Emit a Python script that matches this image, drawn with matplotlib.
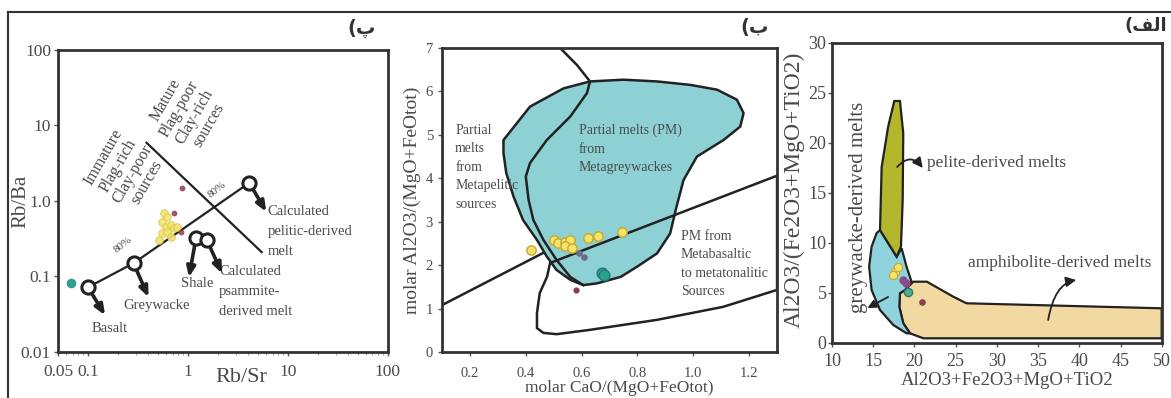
import matplotlib
matplotlib.use('Agg')
import matplotlib.pyplot as plt
from matplotlib.patches import Polygon
from matplotlib.lines import Line2D

plt.rcParams['font.family'] = ['Liberation Serif', 'DejaVu Serif']

# ---------------- Panel (پ) : Rb/Sr vs Rb/Ba ----------------
p1_xticks = [0.05, 0.1, 1, 10, 100]
p1_xticklabels = ['0.05', '0.1', '1', '10', '100']
p1_yticks = [0.01, 0.1, 1, 10, 100]
p1_yticklabels = ['0.01', '0.1', '1.0', '10', '100']
mix_x = [0.1, 0.285, 4.1]
mix_y = [0.072, 0.15, 1.74]
div_x = [0.385, 5.46]
div_y = [5.9, 0.21]
end_names = ['Basalt', 'Greywacke', 'Shale',
             'Calculated\npsammite-\nderived melt',
             'Calculated\npelitic-derived\nmelt']
end_x = [0.1, 0.285, 1.2, 1.55, 4.1]
end_y = [0.072, 0.15, 0.32, 0.30, 1.74]
p1_yel_x = [0.573, 0.614, 0.546, 0.60, 0.673, 0.722, 0.774, 0.546, 0.614, 0.509, 0.673]
p1_yel_y = [0.693, 0.614, 0.527, 0.453, 0.481, 0.439, 0.453, 0.377, 0.388, 0.304, 0.333]
p1_red_x = [0.87, 0.85, 0.72]
p1_red_y = [1.48, 0.39, 0.69]
p1_teal_x = [0.067]
p1_teal_y = [0.082]

# ---------------- Panel (ب) : CaO/(MgO+FeOt) vs Al2O3/(MgO+FeOt) ----------------
p2_xticks = [0.2, 0.4, 0.6, 0.8, 1.0, 1.2]
p2_xticklabels = ['0.2', '0.4', '0.6', '0.8', '1.0', '1.2']
p2_yticks = [0, 1, 2, 3, 4, 5, 6, 7]
greyw_x = [0.32, 0.415, 0.535, 0.63, 0.75, 0.87, 0.99, 1.085, 1.156, 1.18, 1.168, 1.108,
           1.013, 0.965, 0.94, 0.917, 0.87, 0.80, 0.74, 0.655, 0.606, 0.56, 0.51, 0.475,
           0.44, 0.39, 0.356, 0.33, 0.32]
greyw_y = [4.88, 5.65, 6.07, 6.23, 6.27, 6.23, 6.15, 6.04, 5.81, 5.5, 5.19, 4.88,
           4.5, 3.96, 3.35, 2.73, 2.27, 1.97, 1.73, 1.58, 1.54, 1.66, 1.89, 2.2,
           2.58, 3.04, 3.58, 4.12, 4.58]
pelit_x = [0.523, 0.583, 0.63, 0.619, 0.559, 0.475, 0.415, 0.40, 0.41, 0.427, 0.463, 0.51, 0.559, 0.606]
pelit_y = [7.0, 6.61, 6.23, 5.96, 5.42, 4.88, 4.35, 4.04, 3.5, 3.04, 2.58, 2.12, 1.73, 1.54]
lineA_x = [0.1, 0.462]
lineA_y = [1.08, 2.28]
basal_x = [0.487, 1.30, 1.30, 1.107, 0.87, 0.63, 0.51, 0.463, 0.44, 0.44, 0.45, 0.476]
basal_y = [2.05, 4.06, 1.43, 1.04, 0.74, 0.51, 0.41, 0.44, 0.55, 0.9, 1.36, 1.73]
p2_yel_x = [0.42, 0.50, 0.517, 0.54, 0.559, 0.54, 0.565, 0.624, 0.66, 0.744]
p2_yel_y = [2.35, 2.58, 2.52, 2.54, 2.58, 2.43, 2.39, 2.62, 2.66, 2.77]
p2_teal_x = [0.672, 0.68]
p2_teal_y = [1.81, 1.78]
p2_grey_x = [0.59, 0.61]
p2_grey_y = [2.28, 2.19]
p2_red_x = [0.58]
p2_red_y = [1.43]

# ---------------- Panel (الف) ----------------
p3_xticks = [10, 15, 20, 25, 30, 35, 40, 45, 50]
p3_yticks = [0, 5, 10, 15, 20, 25, 30]
pel_x = [17.55, 18.24, 18.64, 18.57, 18.36, 17.84, 15.82, 16.02, 16.8]
pel_y = [24.2, 24.2, 20.97, 14.3, 9.63, 8.63, 11.3, 17.6, 21.6]
gw_x = [15.82, 17.84, 18.44, 19.04, 19.64, 18.85, 18.24, 18.16, 18.64, 19.45, 19.04,
        17.43, 15.82, 14.8, 14.5, 14.8, 15.4]
gw_y = [11.3, 8.63, 9.47, 7.63, 6.13, 5.3, 4.97, 3.63, 1.97, 0.97, 0.97,
        1.8, 3.3, 5.3, 7.63, 9.63, 10.97]
amp_x = [49.96, 49.96, 26.3, 24.7, 21.5, 19.85, 18.85, 18.24, 18.16, 18.64, 19.45, 21.07]
amp_y = [0.47, 3.47, 3.97, 4.63, 6.13, 6.13, 5.3, 4.97, 3.63, 1.97, 0.97, 0.47]
p3_yel_x = [17.64, 18.0, 17.39]
p3_yel_y = [7.1, 7.6, 6.8]
p3_pur_x = [18.6, 18.97]
p3_pur_y = [6.3, 6.0]
p3_teal_x = [19.2]
p3_teal_y = [5.1]
p3_red_x = [20.9]
p3_red_y = [4.1]

TXT = '#4a4a4a'
LINE = '#222222'
YEL_F, YEL_E = '#f4e46a', '#c9a82c'
TEAL = '#2e9e8e'
RED = '#8a3b4e'

fig = plt.figure(figsize=(11.71, 3.98), dpi=100)
fig.patch.set_facecolor('white')

def style(ax, size):
    for s in ax.spines.values():
        s.set_linewidth(2.0)
        s.set_color('#333333')
    ax.tick_params(colors='#555555', labelcolor=TXT, labelsize=size, width=1.0, length=3)

# ===== Panel 1 =====
ax1 = fig.add_axes([0.0495, 0.1156, 0.2818, 0.7588])
ax1.set_xscale('log'); ax1.set_yscale('log')
ax1.set_xlim(0.05, 100); ax1.set_ylim(0.01, 100)
ax1.set_xticks(p1_xticks); ax1.set_xticklabels(p1_xticklabels)
ax1.set_yticks(p1_yticks); ax1.set_yticklabels(p1_yticklabels)
ax1.tick_params(axis='y', which='minor', length=0)
ax1.tick_params(axis='x', which='minor', length=2.5, color='#888888')
style(ax1, 12.5)
ax1.tick_params(axis='x', pad=6)
ax1.tick_params(axis='y', pad=2)
ax1.plot(mix_x, mix_y, color=LINE, lw=1.6, zorder=2)
ax1.plot(div_x, div_y, color=LINE, lw=1.6, zorder=2)
ax1.scatter(p1_yel_x, p1_yel_y, s=30, c=YEL_F, edgecolors='#d9c24a', linewidths=0.6, zorder=3, alpha=0.9)
ax1.scatter(p1_red_x, p1_red_y, s=10, c=RED, zorder=4, alpha=0.8)
ax1.scatter(p1_teal_x, p1_teal_y, s=35, c=TEAL, zorder=4)
ax1.plot(end_x, end_y, 'o', ms=9.5, mfc='white', mec=LINE, mew=2.2, ls='none', zorder=5)
stems = [(17, -28), (15, -34), (-7, -39), (15, -33), (17, -29)]
labs = [((22, -41), 'center', 'center'), ((23, -42), 'center', 'center'),
        ((1, -45), 'center', 'center'), ((12, -25), 'left', 'top'),
        ((18, -22), 'left', 'top')]
for i in range(len(end_x)):
    ax1.annotate('', xy=(end_x[i], end_y[i]), xycoords='data',
                 xytext=stems[i], textcoords='offset pixels',
                 arrowprops=dict(arrowstyle='<|-,head_length=0.6,head_width=0.25',
                                 color=LINE, lw=2.6, shrinkA=0, shrinkB=5), zorder=4)
    (off, ha, va) = labs[i]
    ax1.annotate(end_names[i], xy=(end_x[i], end_y[i]), xytext=off,
                 textcoords='offset pixels', ha=ha, va=va, fontsize=10.5,
                 color=TXT, linespacing=1.7)
ax1.text(0.237, 2.58, 'Immature\nPlag-rich\nClay-poor\nsources', rotation=60,
         ha='center', va='center', fontsize=11.5, color=TXT, rotation_mode='anchor',
         linespacing=1.05, multialignment='center')
ax1.text(0.977, 14.7, 'Mature\nPlag-poor\nClay-rich\nsources', rotation=60,
         ha='center', va='center', fontsize=11.5, color=TXT, rotation_mode='anchor',
         linespacing=1.05, multialignment='center')
ax1.text(0.226, 0.26, '80%', rotation=38, fontsize=8, color=TXT, ha='center', va='center')
ax1.text(1.96, 1.4, '80%', rotation=38, fontsize=8, color=TXT, ha='center', va='center')
ax1.text(0.555, -0.085, 'Rb/Sr', transform=ax1.transAxes, ha='center', va='center',
         fontsize=16, color=TXT)
ax1.text(-0.112, 0.5, 'Rb/Ba', transform=ax1.transAxes, ha='center', va='center',
         fontsize=15, color=TXT, rotation=90)

# ===== Panel 2 =====
ax2 = fig.add_axes([0.3775, 0.1156, 0.2861, 0.7638])
ax2.set_xlim(0.1, 1.3); ax2.set_ylim(0, 7)
ax2.set_xticks(p2_xticks); ax2.set_xticklabels(p2_xticklabels)
ax2.set_yticks(p2_yticks)
style(ax2, 10.5)
ax2.tick_params(axis='x', pad=8)
ax2.add_patch(Polygon(list(zip(greyw_x, greyw_y)), closed=True, facecolor='#8ed1d5',
                      edgecolor=LINE, lw=1.8, zorder=1))
ax2.plot(pelit_x, pelit_y, color=LINE, lw=1.8, zorder=2)
ax2.plot(lineA_x, lineA_y, color=LINE, lw=1.8, zorder=2)
ax2.add_patch(Polygon(list(zip(basal_x, basal_y)), closed=True, facecolor='none',
                      edgecolor=LINE, lw=1.8, zorder=2))
ax2.scatter(p2_yel_x, p2_yel_y, s=45, c=YEL_F, edgecolors=YEL_E, linewidths=1.0, zorder=3)
ax2.scatter(p2_teal_x, p2_teal_y, s=60, c=TEAL, edgecolors='#1f7d70', zorder=3)
ax2.scatter(p2_grey_x, p2_grey_y, s=14, c='#6b6b8a', zorder=3)
ax2.scatter(p2_red_x, p2_red_y, s=12, c=RED, zorder=3)
ax2.text(0.147, 5.25, 'Partial\nmelts\nfrom\nMetapelitic\nsources', ha='left', va='top',
         fontsize=10, color=TXT, linespacing=1.55)
ax2.text(0.59, 5.25, 'Partial melts (PM)\nfrom\nMetagreywackes', ha='left', va='top',
         fontsize=10, color=TXT, linespacing=1.55)
ax2.text(0.955, 2.82, 'PM from\nMetabasaltic\nto metatonalitic\nSources', ha='left', va='top',
         fontsize=10, color=TXT, linespacing=1.55)
ax2.text(0.53, -0.118, 'molar CaO/(MgO+FeOtot)', transform=ax2.transAxes, ha='center',
         va='center', fontsize=12.5, color=TXT)
ax2.text(-0.09, 0.5, 'molar Al2O3/(MgO+FeOtot)', transform=ax2.transAxes, ha='center',
         va='center', fontsize=14, color=TXT, rotation=90)

# ===== Panel 3 =====
ax3 = fig.add_axes([0.7105, 0.1382, 0.2818, 0.7538])
ax3.set_xlim(10, 50); ax3.set_ylim(0, 30)
ax3.set_xticks(p3_xticks); ax3.set_yticks(p3_yticks)
style(ax3, 13)
ax3.tick_params(axis='y', pad=1)
ax3.tick_params(axis='x', pad=4)
ax3.add_patch(Polygon(list(zip(amp_x, amp_y)), closed=True, facecolor='#f2d9a2',
                      edgecolor=LINE, lw=1.6, zorder=1))
ax3.add_patch(Polygon(list(zip(gw_x, gw_y)), closed=True, facecolor='#8fd3dc',
                      edgecolor=LINE, lw=1.6, zorder=1))
ax3.add_patch(Polygon(list(zip(pel_x, pel_y)), closed=True, facecolor='#b4b62c',
                      edgecolor=LINE, lw=1.6, zorder=1))
ax3.scatter(p3_yel_x, p3_yel_y, s=35, c=YEL_F, edgecolors=YEL_E, linewidths=0.8, zorder=3)
ax3.scatter(p3_pur_x, p3_pur_y, s=25, c='#8a4a8a', zorder=3)
ax3.scatter(p3_teal_x, p3_teal_y, s=35, c='#4fae92', edgecolors='#2e7d6a', zorder=3)
ax3.scatter(p3_red_x, p3_red_y, s=14, c=RED, zorder=3)
ax3.text(21.5, 18.0, 'pelite-derived melts', ha='left', va='center', fontsize=12.5, color=TXT)
ax3.text(26.5, 8.0, 'amphibolite-derived melts', ha='left', va='center', fontsize=12.5, color=TXT)
ax3.text(13.2, 13.6, 'greywacke-derived melts', ha='center', va='center', fontsize=15,
         color=TXT, rotation=90)
ax3.annotate('', xy=(21.0, 17.5), xytext=(17.9, 17.6),
             arrowprops=dict(arrowstyle='-|>,head_length=0.6,head_width=0.3', color=LINE,
                             lw=1.3, connectionstyle='arc3,rad=-0.6', shrinkA=0, shrinkB=0))
ax3.annotate('', xy=(39.6, 6.3), xytext=(36.2, 2.3),
             arrowprops=dict(arrowstyle='-|>,head_length=0.6,head_width=0.3', color=LINE,
                             lw=1.3, connectionstyle='angle3,angleA=80,angleB=10',
                             shrinkA=0, shrinkB=0))
ax3.annotate('', xy=(14.3, 3.5), xytext=(16.8, 4.6),
             arrowprops=dict(arrowstyle='-|>,head_length=0.5,head_width=0.25', color=LINE,
                             lw=1.3, shrinkA=0, shrinkB=0))
ax3.text(0.53, -0.125, 'Al2O3+Fe2O3+MgO+TiO2', transform=ax3.transAxes, ha='center',
         va='center', fontsize=13.5, color=TXT)
ax3.text(-0.115, 0.51, 'Al2O3/(Fe2O3+MgO+TiO2)', transform=ax3.transAxes, ha='center',
         va='center', fontsize=17, color=TXT, rotation=90)

# ===== panel letters (Persian, visual order) =====
arab = ['DejaVu Sans']
fig.text(362 / 1171, 1 - 28 / 398, '(\u067E', family=arab, fontsize=14, ha='center',
         va='center', color='#333333', weight='bold')
fig.text(755 / 1171, 1 - 27 / 398, '(\u0628', family=arab, fontsize=14, ha='center',
         va='center', color='#333333', weight='bold')
fig.text(1146 / 1171, 1 - 26 / 398, '(\uFED2\uFEDF\uFE8D', family=arab, fontsize=13,
         ha='center', va='center', color='#333333', weight='bold')

# figure frame lines
fig.add_artist(Line2D([8 / 1171, 1.0], [1 - 12 / 398, 1 - 12 / 398], color='#333333', lw=1.5))
fig.add_artist(Line2D([8 / 1171, 8 / 1171], [0, 1 - 12 / 398], color='#333333', lw=1.5))

fig.savefig('out.png', dpi=100, facecolor='white')
